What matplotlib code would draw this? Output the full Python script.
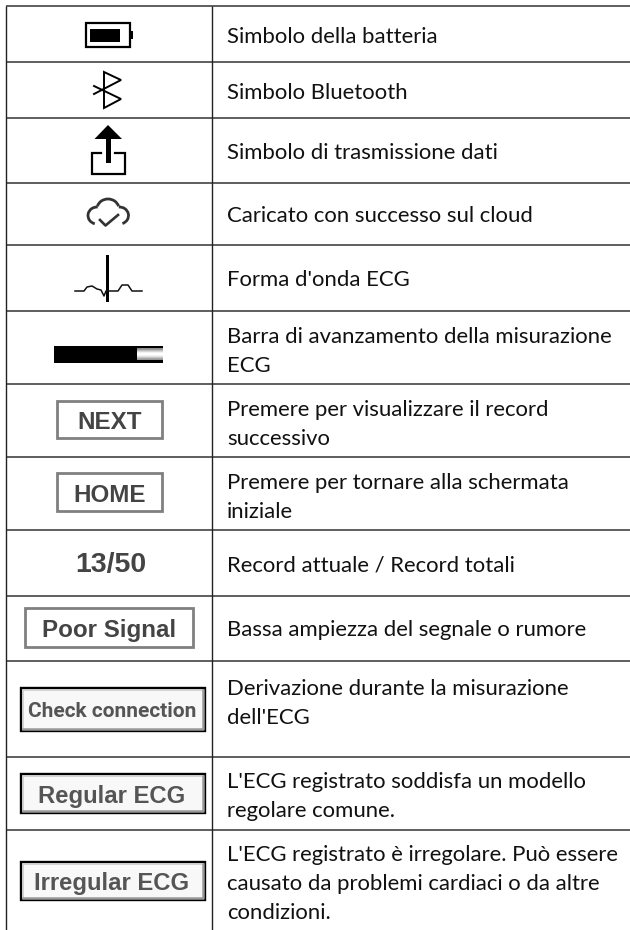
import matplotlib
matplotlib.use("Agg")
import matplotlib.pyplot as plt
from matplotlib.patches import Rectangle, Polygon, Arc
import numpy as np

# table geometry, in pixels of the 630x930 picture
row_lines = [6.5, 62, 118, 183, 245.5, 311, 384, 457, 530, 596, 661, 757, 830]
col_lines = [6, 212]
TEXT_X = 227

# one entry per text line: (text, baseline)
desc_lines = [
    ("Simbolo della batteria", 43),
    ("Simbolo Bluetooth", 99),
    ("Simbolo di trasmissione dati", 159),
    ("Caricato con successo sul cloud", 222),
    ("Forma d'onda ECG", 286),
    ("Barra di avanzamento della misurazione", 343),
    ("ECG", 372),
    ("Premere per visualizzare il record", 416),
    ("successivo", 445),
    ("Premere per tornare alla schermata", 489),
    ("iniziale", 518),
    ("Record attuale / Record totali", 571),
    ("Bassa ampiezza del segnale o rumore", 636),
    ("Derivazione durante la misurazione", 695),
    ("dell'ECG", 724),
    ("L'ECG registrato soddisfa un modello", 788),
    ("regolare comune.", 817),
    ("L'ECG registrato è irregolare. Può essere", 861),
    ("causato da problemi cardiaci o da altre", 890),
    ("condizioni.", 919),
]

# plain gray buttons: label, left, top, right, bottom
gray_buttons = [
    ("NEXT", 57, 401, 162, 438),
    ("HOME", 57, 473, 162, 511),
    ("Poor Signal", 25, 608, 193, 647),
]
# black framed buttons
black_buttons = [
    ("Check connection", 21, 688, 205, 731, "Roboto", 15.0),
    ("Regular ECG", 21, 774, 205, 813, "Liberation Sans", 17.2),
    ("Irregular ECG", 21, 862, 205, 900, "Liberation Sans", 17.2),
]
ecg_x = [75, 84, 87, 92, 97, 101, 104, 106, 112, 118, 122, 128, 132, 142]
ecg_y = [291, 291, 287, 286, 289, 290, 296, 291, 291, 291, 285, 285, 291, 291]

fig = plt.figure(figsize=(6.3, 9.3), dpi=100)
ax = fig.add_axes([0, 0, 1, 1])

# grid
for y in row_lines:
    ax.plot([col_lines[0], 630], [y, y], color="#333333", lw=1.1, solid_capstyle="butt")
for x in col_lines:
    ax.plot([x, x], [row_lines[0], 930], color="#222222", lw=1.0, solid_capstyle="butt")

# descriptions
for txt, y in desc_lines:
    ax.text(TEXT_X, y, txt, family="Lato", fontsize=15.9, color="#111111", va="baseline", ha="left")

# battery
ax.add_patch(Rectangle((85.5, 23.5), 44, 23.5, fc="white", ec="black", lw=1.6))
ax.add_patch(Rectangle((89.5, 29), 30.5, 13, fc="black", ec="none"))
ax.add_patch(Rectangle((130, 31), 2.5, 8, fc="black", ec="none"))

# bluetooth
ax.plot([94, 121, 104, 104, 121, 94], [94, 80, 72, 108, 99, 86], color="black", lw=1.4, solid_joinstyle="miter")

# upload
ax.add_patch(Polygon([(108, 125), (94.5, 139), (122, 139)], fc="black", ec="none"))
ax.add_patch(Rectangle((106, 138), 4.5, 25, fc="black", ec="none"))
ax.plot([101, 92, 92, 125, 125, 115], [153.5, 153.5, 174.5, 174.5, 153.5, 153.5],
        color="black", lw=1.6, solid_joinstyle="miter")

# cloud with check
cloud = "#333333"
ax.add_patch(Arc((97, 215.5), 18, 17, theta1=105, theta2=275, ec=cloud, lw=2.0))
ax.add_patch(Arc((108, 209), 22, 20, theta1=195, theta2=345, ec=cloud, lw=2.0))
ax.add_patch(Arc((119.5, 215.5), 18, 17, theta1=265, theta2=70, ec=cloud, lw=2.0))
ax.plot([100, 105.5, 118], [220, 225.5, 215], color=cloud, lw=1.9)

# ecg waveform
ax.plot(ecg_x, ecg_y, color="#111111", lw=1.1)
ax.add_patch(Rectangle((105.5, 255), 3.5, 47, fc="black", ec="none"))

# progress bar
ax.add_patch(Rectangle((54, 346), 109, 17, fc="black", ec="none"))
shade = np.array([[0.55], [0.8], [1.0], [1.0], [0.85], [0.6]])
ax.imshow(shade, cmap="gray", vmin=0, vmax=1, extent=(136.5, 162, 360, 348), aspect="auto",
          interpolation="bilinear", zorder=3)

# buttons
for label, x0, y0, x1, y1 in gray_buttons:
    ax.add_patch(Rectangle((x0, y0), x1 - x0, y1 - y0, fc="white", ec="#808080", lw=2.0))
    ax.text((x0 + x1) / 2, (y0 + y1) / 2 + 0.5, label, family="Liberation Sans", weight="bold",
            fontsize=17.4, color="#444444", ha="center", va="center_baseline")

ax.text(110.5, 562, "13/50", family="Liberation Sans", weight="bold", fontsize=20.5,
        color="#444444", ha="center", va="center_baseline")

for label, x0, y0, x1, y1, fam, size in black_buttons:
    ax.add_patch(Rectangle((x0, y0), x1 - x0, y1 - y0, fc="#f8f8f8", ec="none"))
    ax.plot([x0 + 2, x0 + 2, x1 - 2], [y1 - 2, y0 + 2, y0 + 2], color="#cccccc", lw=1.2)
    ax.plot([x0 + 2, x1 - 2.5, x1 - 2.5], [y1 - 2.5, y1 - 2.5, y0 + 2], color="#999999", lw=1.8)
    ax.add_patch(Rectangle((x0, y0), x1 - x0, y1 - y0, fc="none", ec="black", lw=1.7))
    ax.text((x0 + x1) / 2 - 1, (y0 + y1) / 2, label, family=fam, weight="bold",
            fontsize=size, color="#555555", ha="center", va="center_baseline")

ax.set_xlim(0, 630)
ax.set_ylim(930, 0)
ax.axis("off")
fig.savefig("out.png", dpi=100, facecolor="white")
